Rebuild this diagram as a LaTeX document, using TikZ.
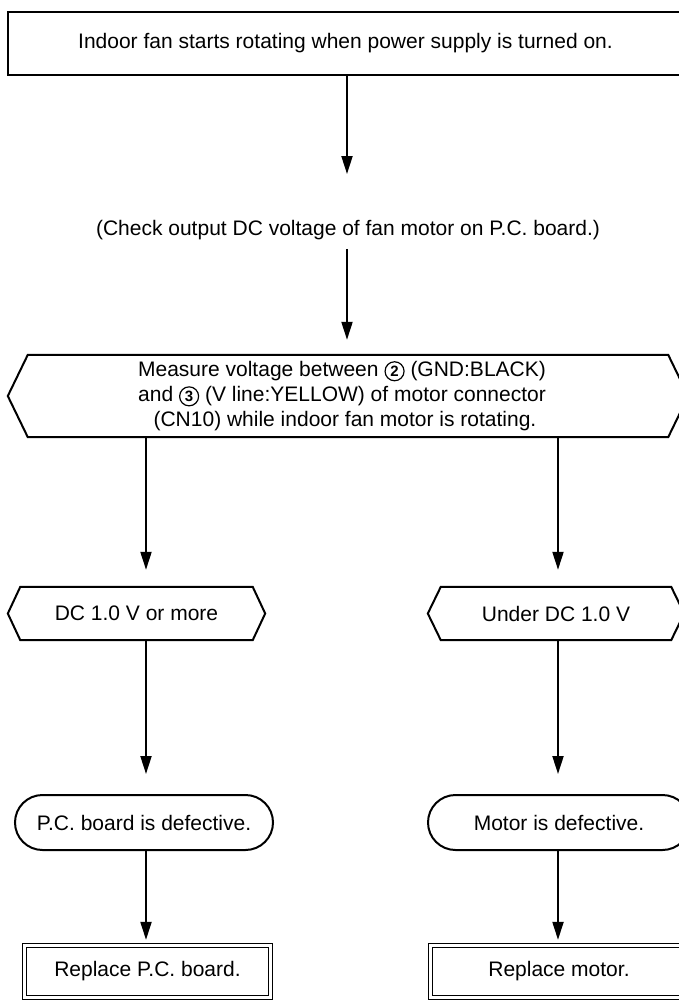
\documentclass[tikz,border=0pt]{standalone}
\usepackage{fontspec}
\setmainfont{Liberation Sans}
\usetikzlibrary{arrows.meta,shapes.misc}
\newcommand\circnum[1]{\tikz[baseline=(cn.base)]\node[circle,draw,line width=1.2pt,inner sep=0pt,minimum size=19pt,font=\fontsize{15}{15}\selectfont\bfseries](cn){#1};}
\begin{document}
\begin{tikzpicture}[x=1pt,y=-1pt,
  every node/.style={font=\fontsize{21}{25}\selectfont, inner sep=0pt},
  line/.style={line width=2pt},
  arr/.style={line width=2pt,-{Triangle[length=18pt,width=11pt]}},
  ghost/.style={rectangle,draw=none,minimum width=#1},
  procbox/.style={rectangle,draw,line width=2pt,minimum width=#1,minimum height=63pt},
  term/.style={rounded rectangle,draw,line width=2pt,minimum width=#1,minimum height=55pt},
  endbox/.style={rectangle,draw,line width=1.3pt,double,double distance=3pt,minimum width=#1,minimum height=52pt}
]
\clip (0,0) rectangle (679,1006);
\useasboundingbox (0,0) rectangle (679,1006);
\coordinate (L) at (146,0);
\coordinate (R) at (558,0);
\coordinate (M) at (347,0);

\node[procbox=682] (start) at (349,43.5)
  {\hspace*{-7pt}Indoor fan starts rotating when power supply is turned on.};

\node (check) at (348,230) {(Check output DC voltage of fan motor on P.C. board.)};

\node[ghost=680,minimum height=82pt,align=center] (meas) at (348,396)
  {\hspace*{-12pt}Measure voltage between \circnum{2} (GND:BLACK)\\
   \hspace*{-12pt}and \circnum{3} (V line:YELLOW) of motor connector\\
   \hspace*{-6pt}(CN10) while indoor fan motor is rotating.};
\draw[line] (meas.west) -- ([xshift=20pt]meas.north west) -- ([xshift=-20pt]meas.north east)
  -- (meas.east) -- ([xshift=-20pt]meas.south east) -- ([xshift=20pt]meas.south west) -- cycle;

\node[ghost=257,minimum height=53pt] (dcl) at (136.5,613.5) {DC 1.0 V or more};
\draw[line] (dcl.west) -- ([xshift=12.5pt]dcl.north west) -- ([xshift=-12.5pt]dcl.north east)
  -- (dcl.east) -- ([xshift=-12.5pt]dcl.south east) -- ([xshift=12.5pt]dcl.south west) -- cycle;

\node[ghost=256,minimum height=53pt] (dcr) at (556,613.5) {Under DC 1.0 V};
\draw[line] (dcr.west) -- ([xshift=13pt]dcr.north west) -- ([xshift=-13pt]dcr.north east)
  -- (dcr.east) -- ([xshift=-13pt]dcr.south east) -- ([xshift=13pt]dcr.south west) -- cycle;

\node[term=258] (pcb) at (144,822.5) {P.C. board is defective.};
\node[term=262] (mot) at (559,822.5) {Motor is defective.};

\node[endbox=246] (rpcb) at (147.5,971.5) {Replace P.C. board.};
\node[endbox=257] (rmot) at (559,971.5) {Replace motor.};

\draw[arr] (start.south -| M) -- ([yshift=46pt]check.north -| M);
\draw[arr] ([yshift=-9pt]check.south -| M) -- ([yshift=15pt]meas.north -| M);
\draw[arr] (meas.south -| L) -- ([yshift=17pt]dcl.north -| L);
\draw[arr] (meas.south -| R) -- ([yshift=17pt]dcr.north -| R);
\draw[arr] (dcl.south -| L) -- ([yshift=20pt]pcb.north -| L);
\draw[arr] (dcr.south -| R) -- ([yshift=20pt]mot.north -| R);
\draw[arr] (pcb.south -| L) -- ([yshift=5pt]rpcb.north -| L);
\draw[arr] (mot.south -| R) -- ([yshift=5pt]rmot.north -| R);
\end{tikzpicture}
\end{document}
